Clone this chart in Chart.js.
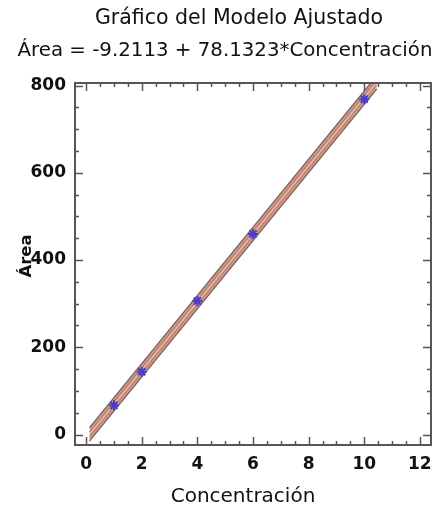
<!DOCTYPE html>
<html><head><meta charset="utf-8">
<script src="https://cdn.jsdelivr.net/npm/chart.js@4"></script>
<style>html,body{margin:0;padding:0;background:#fff}#wrap{width:441px;height:513px;position:relative}</style>
</head><body><div id="wrap"><canvas id="c" width="441" height="513"></canvas></div>
<script>
// Observed data
const concentracion = [1, 2, 4, 6, 10];
const area = [67, 144, 306, 460, 769];
// Fitted line endpoints (Área = -9.2113 + 78.1323*Concentración)
const fitX = [0.12, 10.45];
const fitY = [0.2, 807.3];
// Band limits
const bandUpper = [16, 823];
const bandLower = [-15, 792];
const innerUpper = [6, 813];
const innerLower = [-5, 802];
// Axis ticks
const xTicks = [0, 2, 4, 6, 8, 10, 12];
const yTicks = [0, 200, 400, 600, 800];
const xMinorStep = 0.5;
const yMinorStep = 50;
// Texts
const chartTitle = 'Gráfico del Modelo Ajustado';
const chartSubtitle = 'Área = -9.2113 + 78.1323*Concentración';
const xTitle = 'Concentración';
const yTitle = 'Área';

const FONT = "'DejaVu Sans', 'Liberation Sans', Arial, sans-serif";

function pts(xs, ys){ return xs.map((x,i)=>({x:x, y:ys[i]})); }

const boxTicks = {
  id: 'boxTicks',
  afterDatasetsDraw(chart){
    const {ctx, chartArea:a, scales:{x, y}} = chart;
    ctx.save();
    ctx.strokeStyle = '#555';
    ctx.lineWidth = 1.5;
    for (let v = 0; v <= 12.0001; v += xMinorStep){
      const px = Math.round(x.getPixelForValue(v)) + 0.5;
      const L = xTicks.includes(Math.round(v*100)/100) ? 8 : 4;
      ctx.beginPath();
      ctx.moveTo(px, a.bottom); ctx.lineTo(px, a.bottom - L);
      ctx.moveTo(px, a.top); ctx.lineTo(px, a.top + L);
      ctx.stroke();
    }
    for (let v = 0; v <= 800.001; v += yMinorStep){
      const py = Math.round(y.getPixelForValue(v)) + 0.5;
      const L = yTicks.includes(Math.round(v)) ? 8 : 4;
      ctx.beginPath();
      ctx.moveTo(a.left, py); ctx.lineTo(a.left + L, py);
      ctx.moveTo(a.right, py); ctx.lineTo(a.right - L, py);
      ctx.stroke();
    }
    ctx.lineWidth = 2;
    ctx.strokeStyle = '#555';
    ctx.strokeRect(a.left, a.top, a.right - a.left, a.bottom - a.top);
    ctx.restore();
  }
};

const texts = {
  id: 'texts',
  afterDraw(chart){
    const ctx = chart.ctx;
    ctx.save();
    ctx.fillStyle = '#111';
    ctx.textAlign = 'center';
    ctx.textBaseline = 'middle';
    ctx.font = "normal 20.5px " + FONT;
    ctx.fillText(chartTitle, 239, 19);
    ctx.font = "normal 19.8px " + FONT;
    ctx.fillText(chartSubtitle, 225, 51);
    ctx.font = "normal 20px " + FONT;
    ctx.fillText(xTitle, 243, 497);
    ctx.translate(27, 256);
    ctx.rotate(-Math.PI/2);
    ctx.font = "bold 16.5px " + FONT;
    ctx.fillText(yTitle, 0, 0);
    ctx.restore();
  }
};

new Chart(document.getElementById('c'), {
  type: 'scatter',
  data: {
    datasets: [
      { type:'line', data: pts(fitX, bandLower), borderColor:'#76605a', borderWidth:1.2, pointRadius:0, fill:false, order:5 },
      { type:'line', data: pts(fitX, bandUpper), borderColor:'#76605a', borderWidth:1.2, pointRadius:0, fill:'-1', backgroundColor:'rgba(200,140,122,0.9)', order:5 },
      { type:'line', data: pts(fitX, innerLower), borderColor:'rgba(170,110,95,0.8)', borderWidth:1, pointRadius:0, fill:false, order:4 },
      { type:'line', data: pts(fitX, innerUpper), borderColor:'rgba(170,110,95,0.8)', borderWidth:1, pointRadius:0, fill:false, order:4 },
      { type:'line', data: pts(fitX, fitY), borderColor:'#e6b4a4', borderWidth:1.5, pointRadius:0, fill:false, order:3 },
      { data: pts(concentracion, area), pointStyle:'star', pointRadius:5, borderColor:'#4a3ccc', backgroundColor:'#4a3ccc', borderWidth:2, order:1 }
    ]
  },
  options: {
    responsive: false,
    animation: false,
    devicePixelRatio: 1,
    layout: { padding: { left: 0, right: 10, top: 83, bottom: 0 } },
    plugins: {
      legend: { display: false },
      tooltip: { enabled: false },
      title: { display: false },
      subtitle: { display: false }
    },
    scales: {
      x: {
        type: 'linear', min: -0.4, max: 12.4,
        grid: { display: false, drawTicks: false },
        border: { display: false },
        afterBuildTicks: s => { s.ticks = xTicks.map(v => ({value: v})); },
        afterFit: s => { s.height = 68; },
        ticks: { padding: 9, color:'#111', font: { family: FONT, size: 17, weight: 'bold' } },
        title: { display: false, text: xTitle }
      },
      y: {
        type: 'linear', min: -24, max: 806,
        grid: { display: false, drawTicks: false },
        border: { display: false },
        afterBuildTicks: s => { s.ticks = yTicks.map(v => ({value: v})); },
        afterFit: s => { s.width = 75; },
        ticks: { padding: 9, color:'#111', font: { family: FONT, size: 17, weight: 'bold' } },
        title: { display: false, text: yTitle }
      }
    }
  },
  plugins: [boxTicks, texts]
});
</script>
</body></html>
